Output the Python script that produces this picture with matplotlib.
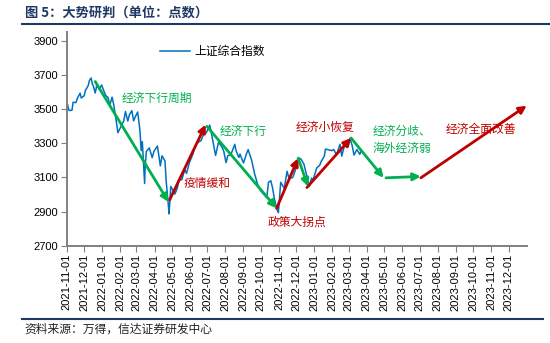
import numpy as np
import pandas as pd
import matplotlib
matplotlib.use('Agg')
import matplotlib.pyplot as plt
import matplotlib.dates as mdates
from matplotlib.lines import Line2D

plt.rcParams['font.family'] = ['Liberation Sans', 'Noto Sans CJK SC', 'DejaVu Sans']
CJK = ['Noto Sans CJK SC', 'DejaVu Sans']

# 上证综合指数
dates = ['2021-11-01', '2021-11-05', '2021-11-10', '2021-11-12', '2021-11-17', '2021-11-19',
         '2021-11-24', '2021-11-26', '2021-12-01', '2021-12-03', '2021-12-08', '2021-12-10',
         '2021-12-13', '2021-12-15', '2021-12-17', '2021-12-20', '2021-12-23', '2021-12-27',
         '2021-12-31', '2022-01-05', '2022-01-07', '2022-01-11', '2022-01-14', '2022-01-18',
         '2022-01-21', '2022-01-25', '2022-01-28', '2022-02-07', '2022-02-10', '2022-02-14',
         '2022-02-17', '2022-02-21', '2022-02-24', '2022-02-28', '2022-03-03', '2022-03-07',
         '2022-03-09', '2022-03-11', '2022-03-15', '2022-03-16', '2022-03-18', '2022-03-23',
         '2022-03-28', '2022-03-31', '2022-04-06', '2022-04-11', '2022-04-14', '2022-04-19',
         '2022-04-21', '2022-04-25', '2022-04-26', '2022-04-29', '2022-05-06', '2022-05-10',
         '2022-05-13', '2022-05-18', '2022-05-23', '2022-05-26', '2022-05-31', '2022-06-06',
         '2022-06-10', '2022-06-15', '2022-06-20', '2022-06-24', '2022-06-29', '2022-07-05',
         '2022-07-08', '2022-07-12', '2022-07-15', '2022-07-20', '2022-07-26', '2022-07-29',
         '2022-08-02', '2022-08-05', '2022-08-10', '2022-08-17', '2022-08-19', '2022-08-24',
         '2022-08-26', '2022-09-01', '2022-09-07', '2022-09-09', '2022-09-15', '2022-09-20',
         '2022-09-26', '2022-09-30', '2022-10-11', '2022-10-14', '2022-10-18', '2022-10-21',
         '2022-10-24', '2022-10-28', '2022-10-31', '2022-11-04', '2022-11-10', '2022-11-15',
         '2022-11-18', '2022-11-23', '2022-11-25', '2022-11-30', '2022-12-06', '2022-12-09',
         '2022-12-14', '2022-12-19', '2022-12-23', '2022-12-27', '2022-12-30', '2023-01-05',
         '2023-01-10', '2023-01-13', '2023-01-18', '2023-01-20', '2023-01-31', '2023-02-03',
         '2023-02-08', '2023-02-14', '2023-02-17', '2023-02-22', '2023-02-28', '2023-03-03',
         '2023-03-07', '2023-03-10', '2023-03-15', '2023-03-20', '2023-03-22']
sse = [3544, 3491, 3492, 3539, 3537, 3560,
       3592, 3564, 3577, 3607, 3637, 3666,
       3681, 3647, 3632, 3593, 3643, 3615,
       3640, 3595, 3579, 3567, 3521, 3569,
       3522, 3434, 3361, 3429, 3485, 3429,
       3468, 3490, 3430, 3462, 3482, 3372,
       3256, 3309, 3064, 3170, 3251, 3272,
       3215, 3252, 3283, 3167, 3226, 3195,
       3080, 2929, 2886, 3047, 3002, 3035,
       3084, 3086, 3146, 3123, 3186, 3236,
       3285, 3305, 3315, 3349, 3361, 3405,
       3356, 3281, 3228, 3305, 3277, 3253,
       3186, 3227, 3230, 3293, 3258, 3216,
       3236, 3184, 3246, 3262, 3200, 3122,
       3051, 3024, 2980, 3071, 3080, 3038,
       2978, 2915, 2893, 3071, 3036, 3135,
       3097, 3096, 3101, 3151, 3212, 3206,
       3176, 3107, 3045, 3095, 3089, 3155,
       3170, 3195, 3224, 3265, 3256, 3263,
       3232, 3293, 3224, 3291, 3280, 3328,
       3285, 3230, 3263, 3234, 3255]

# trend arrows: start date, start value, end date, end value, colour
arrow_start_dates = ['2021-12-20', '2022-04-27', '2022-06-30', '2022-10-28', '2022-12-04',
                     '2022-12-19', '2023-03-05', '2023-05-04', '2023-07-03']
arrow_start_vals = [3660, 2968, 3398, 2919, 3212, 3040, 3330, 3097, 3097]
arrow_end_dates = ['2022-04-25', '2022-06-28', '2022-10-28', '2022-12-04', '2022-12-21',
                   '2023-03-05', '2023-04-30', '2023-07-03', '2024-01-01']
arrow_end_vals = [2956, 3408, 2919, 3212, 3046, 3330, 3097, 3105, 3519]
arrow_kinds = ['down', 'up', 'down', 'up', 'down', 'up', 'down', 'down', 'up']

# phase labels
label_texts = ['经济下行周期', '疫情缓和', '经济下行', '政策大拐点', '经济小恢复',
               '经济分歧、\n海外经济弱', '经济全面改善']
label_dates = ['2022-04-05', '2022-06-30', '2022-09-01', '2022-12-02', '2023-01-19',
               '2023-04-11', '2023-10-14']
label_vals = [3560, 3062, 3367, 2839, 3390, 3317, 3378]
label_kinds = ['down', 'up', 'down', 'up', 'up', 'down', 'up']
label_align = ['center', 'center', 'center', 'center', 'center', 'left', 'center']

GREEN = '#00B050'
RED = '#C00000'
NAVY = '#1F3864'
kind_color = {'up': RED, 'down': GREEN}

fig = plt.figure(figsize=(5.5, 3.43), dpi=100)
fig.patch.set_facecolor('white')
ax = fig.add_axes([0.1213, 0.2837, 0.8363, 0.623])

x = pd.to_datetime(dates)
ax.plot(x, sse, color='#0070C0', lw=1.1, label='上证综合指数')

for sd, sv, ed, ev, k in zip(arrow_start_dates, arrow_start_vals,
                             arrow_end_dates, arrow_end_vals, arrow_kinds):
    ax.annotate('', xy=(mdates.date2num(pd.Timestamp(ed)), ev),
                xytext=(mdates.date2num(pd.Timestamp(sd)), sv),
                arrowprops=dict(arrowstyle='-|>', color=kind_color[k], lw=2,
                                mutation_scale=11, shrinkA=0, shrinkB=0),
                annotation_clip=False, zorder=4)

for t, d, v, k, ha in zip(label_texts, label_dates, label_vals, label_kinds, label_align):
    ax.text(mdates.date2num(pd.Timestamp(d)), v, t, color=kind_color[k],
            fontsize=8.5, family=CJK, ha=ha, va='center', linespacing=1.4,
            clip_on=False)

ax.set_xlim(pd.Timestamp('2021-11-01'), pd.Timestamp('2024-01-01'))
ax.set_ylim(2700, 3950)
ax.set_yticks(np.arange(2700, 3901, 200))
ticks = pd.date_range('2021-11-01', '2023-12-01', freq='MS')
ax.set_xticks(ticks)
ax.set_xticklabels([t.strftime('%Y-%m-%d') for t in ticks], rotation=90, fontsize=8)
ax.tick_params(axis='y', labelsize=8, length=4, color='#808080', pad=2)
ax.tick_params(axis='x', length=4, color='#808080', pad=2)
for s in ['top', 'right']:
    ax.spines[s].set_visible(False)
for s in ['left', 'bottom']:
    ax.spines[s].set_color('#808080')
    ax.spines[s].set_linewidth(1.4)

leg = ax.legend(loc='upper left', bbox_to_anchor=(0.18, 0.99), frameon=False,
                prop={'family': CJK, 'size': 8.5}, handlelength=2.5, handletextpad=0.4)

fig.text(0.045, 0.963, '图 5：大势研判（单位：点数）', family=CJK, fontsize=9.5,
         fontweight='bold', color=NAVY, ha='left', va='center')
fig.add_artist(Line2D([0.04, 1.0], [0.930, 0.930], color=NAVY, lw=1.5))
fig.add_artist(Line2D([0.04, 0.987], [0.070, 0.070], color=NAVY, lw=1.5))
fig.text(0.045, 0.040, '资料来源：万得，信达证券研发中心', family=CJK, fontsize=8.5,
         color='#222222', ha='left', va='center')

fig.savefig('out.png', dpi=100)
